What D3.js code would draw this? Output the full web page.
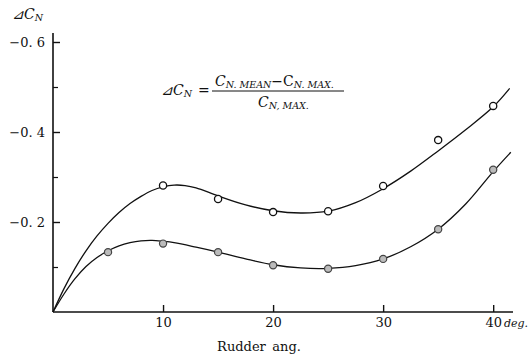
<!DOCTYPE html>
<html><head><meta charset="utf-8">
<script src="https://cdn.jsdelivr.net/npm/d3@7"></script>
<style>
body{margin:0;background:#fff;}
svg text{font-family:"DejaVu Serif",serif !important;fill:#111;}
</style></head>
<body><svg id="c" width="531" height="356"></svg>
<script>
// marker data (rudder angle, deg ; -ΔCN)
const upperX = [10, 15, 20, 25, 30, 35, 40];
const upperY = [0.281, 0.251, 0.222, 0.224, 0.280, 0.382, 0.458];
const lowerX = [5, 10, 15, 20, 25, 30, 35, 40];
const lowerY = [0.133, 0.152, 0.133, 0.104, 0.096, 0.118, 0.184, 0.316];
// faired curves
const upperCurveX = [0, 1, 2, 3, 4, 5, 6, 7, 8, 9, 10, 11, 12, 13, 15, 17.5, 20, 22.5, 25, 27.5, 30, 32.5, 35, 37.5, 40, 41.5];
const upperCurveY = [0, 0.052, 0.097, 0.136, 0.169, 0.197, 0.221, 0.241, 0.257, 0.270, 0.278, 0.282, 0.281, 0.276, 0.258, 0.238, 0.225, 0.220, 0.224, 0.243, 0.274, 0.313, 0.358, 0.405, 0.456, 0.497];
const lowerCurveX = [0, 1, 2, 3, 4, 5, 6, 7, 8, 9, 10, 11, 13, 15, 17.5, 20, 22.5, 25, 27.5, 30, 32.5, 35, 37.5, 40, 41.6];
const lowerCurveY = [0, 0.040, 0.074, 0.101, 0.121, 0.136, 0.147, 0.154, 0.158, 0.159, 0.157, 0.154, 0.144, 0.133, 0.118, 0.105, 0.098, 0.097, 0.103, 0.118, 0.145, 0.184, 0.240, 0.312, 0.355];
// ticks
const xTickValues = [10, 20, 30, 40];
const xTickLabels = ["10", "20", "30", "40"];
const yTickValues = [0.2, 0.4, 0.6];
const yTickLabels = ["\u22120. 2", "\u22120. 4", "\u22120. 6"];
const yMinorTicks = [0.1, 0.3, 0.5];

const FONT = "DejaVu Serif, serif";
const svg = d3.select("#c");
const x = d3.scaleLinear().domain([0, 41.8]).range([53, 513]);
const y = d3.scaleLinear().domain([0, 0.6]).range([312, 42]);

// axes
const xAxis = d3.axisBottom(x).tickValues(xTickValues).tickSize(-7).tickPadding(6)
  .tickFormat((d, i) => xTickLabels[i]);
const gx = svg.append("g").attr("transform", `translate(0,${y(0)})`).call(xAxis).attr("font-family", FONT);
gx.select(".domain").attr("d", `M${x(0)},0H${x(41.8)}`).attr("stroke", "#111").attr("stroke-width", 1.6);
gx.selectAll(".tick line").attr("stroke", "#111").attr("stroke-width", 1.4);
gx.selectAll(".tick text").attr("font-size", 13).attr("fill", "#111");

const yAxis = d3.axisLeft(y).tickValues(yTickValues).tickSize(-7).tickPadding(8)
  .tickFormat((d, i) => yTickLabels[i]);
const gy = svg.append("g").attr("transform", `translate(${x(0)},0)`).call(yAxis).attr("font-family", FONT);
gy.select(".domain").attr("d", `M0,${y(0)}V${y(0.62)}`).attr("stroke", "#111").attr("stroke-width", 1.6);
gy.selectAll(".tick line").attr("stroke", "#111").attr("stroke-width", 1.4);
gy.selectAll(".tick text").attr("font-size", 13).attr("fill", "#111");

const yMinor = d3.axisLeft(y).tickValues(yMinorTicks).tickSize(-5).tickFormat("");
const gym = svg.append("g").attr("transform", `translate(${x(0)},0)`).call(yMinor);
gym.select(".domain").remove();
gym.selectAll(".tick line").attr("stroke", "#111").attr("stroke-width", 1.2);

// curves
const line = d3.line().x(d => x(d[0])).y(d => y(d[1])).curve(d3.curveCatmullRom.alpha(0.5));
svg.append("path").attr("d", line(d3.zip(upperCurveX, upperCurveY)))
  .attr("fill", "none").attr("stroke", "#111").attr("stroke-width", 1.3);
svg.append("path").attr("d", line(d3.zip(lowerCurveX, lowerCurveY)))
  .attr("fill", "none").attr("stroke", "#111").attr("stroke-width", 1.3);

// markers
svg.append("g").selectAll("circle").data(d3.zip(upperX, upperY)).join("circle")
  .attr("cx", d => x(d[0])).attr("cy", d => y(d[1])).attr("r", 3.6)
  .attr("fill", "#fff").attr("stroke", "#111").attr("stroke-width", 1.3);
svg.append("g").selectAll("circle").data(d3.zip(lowerX, lowerY)).join("circle")
  .attr("cx", d => x(d[0])).attr("cy", d => y(d[1])).attr("r", 3.6)
  .attr("fill", "#bbb").attr("stroke", "#444").attr("stroke-width", 1.2);

// axis titles
const t = svg.append("text").attr("x", 12).attr("y", 19).attr("font-size", 14).attr("font-style", "italic").attr("font-family", FONT);
t.append("tspan").text("\u22BFC");
t.append("tspan").attr("font-size", 9.5).attr("dy", 2).text("N");

svg.append("text").attr("x", 504).attr("y", 327).attr("font-size", 11).attr("font-style", "italic").attr("font-family", FONT).text("deg.");
svg.append("text").attr("x", 259).attr("y", 351).attr("font-size", 13).attr("text-anchor", "middle").attr("font-family", FONT).text("Rudder\u2002ang.");

// formula
const f = svg.append("g").attr("font-family", FONT);
const lhs = f.append("text").attr("x", 161).attr("y", 95).attr("font-size", 14).attr("font-style", "italic");
lhs.append("tspan").text("\u22BFC");
lhs.append("tspan").attr("font-size", 9.5).attr("dy", 2).text("N");
f.append("text").attr("x", 198).attr("y", 95).attr("font-size", 14).text("=");
const num = f.append("text").attr("x", 215).attr("y", 86).attr("font-size", 14).attr("font-style", "italic");
num.append("tspan").text("C");
num.append("tspan").attr("font-size", 9.5).attr("dy", 2).text("N. MEAN");
num.append("tspan").attr("font-style", "normal").attr("dy", -2).attr("font-size", 14).text("\u2212C");
num.append("tspan").attr("font-size", 9.5).attr("dy", 2).text("N. MAX.");
f.append("line").attr("x1", 212).attr("x2", 344).attr("y1", 91).attr("y2", 91).attr("stroke", "#111").attr("stroke-width", 1);
const den = f.append("text").attr("x", 258).attr("y", 107).attr("font-size", 14).attr("font-style", "italic");
den.append("tspan").text("C");
den.append("tspan").attr("font-size", 9.5).attr("dy", 2).text("N, MAX.");
</script></body></html>
